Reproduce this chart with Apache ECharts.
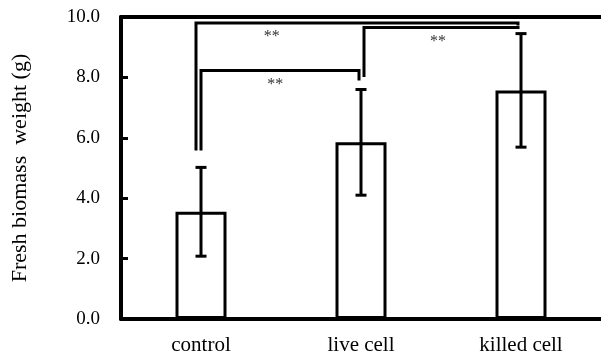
<!DOCTYPE html>
<html>
<head>
<meta charset="utf-8">
<script src="https://cdn.jsdelivr.net/npm/echarts@6/dist/echarts.min.js"></script>
<style>html,body{margin:0;padding:0;background:#fff}#c{width:601px;height:356px}</style>
</head>
<body>
<div id="c"></div>
<script>
// ---- data ----
const categories = ['control', 'live cell', 'killed cell'];
const means = [3.55, 5.85, 7.57];
const errors = [1.47, 1.75, 1.88];
const yTickMin = 0, yTickMax = 10, yTickStep = 2;
// brackets: [fromIndex, toIndex, topValue, leftEndValue, rightEndValue]
const brackets = [
  [0, 2, 9.80, 5.58, 9.72],
  [1, 2, 9.65, 8.01, 9.60],
  [0, 1, 8.23, 5.58, 7.90]
];
const bracketLabels = ['**', '**', '**'];
// label y values
const bracketLabelValues = [9.34, 9.18, 7.74];

// ---- style (pixel offsets, not data) ----
const bracketOffsets = [[-5, -3], [3, -3], [0, -2]];
const labelFractions = [0.235, 0.48, 0.47];
const serif = '"Liberation Serif", "Times New Roman", serif';

const errData = categories.map((c, i) => [i, means[i] - errors[i], means[i] + errors[i]]);
const brData = brackets.map((b, i) => b.concat([i]));

const chart = echarts.init(document.getElementById('c'), null, {renderer: 'canvas'});
chart.setOption({
  animation: false,
  backgroundColor: '#fff',
  grid: {left: 121, right: -2, top: 17, bottom: 35.5, containLabel: false},
  xAxis: [{
    type: 'category',
    data: categories,
    boundaryGap: true,
    axisLine: {lineStyle: {color: '#000', width: 4}},
    axisTick: {inside: true, length: 6, lineStyle: {color: '#000', width: 3}},
    axisLabel: {color: '#000', fontFamily: serif, fontSize: 21, margin: 16},
    splitLine: {show: false}
  }, {
    type: 'category',
    data: categories,
    position: 'top',
    axisLine: {lineStyle: {color: '#000', width: 4}},
    axisTick: {show: false},
    axisLabel: {show: false}
  }],
  yAxis: {
    type: 'value',
    min: yTickMin, max: yTickMax, interval: yTickStep,
    name: 'Fresh biomass  weight (g)',
    nameLocation: 'middle',
    nameGap: 90,
    nameTextStyle: {color: '#000', fontFamily: serif, fontSize: 22},
    axisLine: {show: true, lineStyle: {color: '#000', width: 4}},
    axisTick: {show: true, inside: true, length: 7, lineStyle: {color: '#000', width: 3}},
    axisLabel: {color: '#000', fontFamily: serif, fontSize: 19, margin: 21,
      formatter: v => v.toFixed(1)},
    splitLine: {show: false}
  },
  series: [{
    type: 'bar',
    data: means,
    barWidth: 51,
    itemStyle: {color: '#fff', borderColor: '#000', borderWidth: 3},
    z: 2
  }, {
    type: 'custom',
    data: errData,
    encode: {x: 0, y: [1, 2]},
    z: 3,
    renderItem: function (params, api) {
      const x = api.value(0);
      const lo = api.coord([x, api.value(1)]);
      const hi = api.coord([x, api.value(2)]);
      const cap = 5.5;
      const st = {stroke: '#000', lineWidth: 3};
      return {type: 'group', children: [
        {type: 'line', shape: {x1: lo[0], y1: lo[1], x2: hi[0], y2: hi[1]}, style: st},
        {type: 'line', shape: {x1: lo[0] - cap, y1: lo[1], x2: lo[0] + cap, y2: lo[1]}, style: st},
        {type: 'line', shape: {x1: hi[0] - cap, y1: hi[1], x2: hi[0] + cap, y2: hi[1]}, style: st}
      ]};
    }
  }, {
    type: 'custom',
    data: brData,
    encode: {x: [0, 1], y: [2, 3, 4]},
    z: 4,
    renderItem: function (params, api) {
      const idx = api.value(5);
      const off = bracketOffsets[idx];
      const f = api.value(0), t = api.value(1);
      const pTopL = api.coord([f, api.value(2)]);
      const pTopR = api.coord([t, api.value(2)]);
      const pL = api.coord([f, api.value(3)]);
      const pR = api.coord([t, api.value(4)]);
      const xl = pTopL[0] + off[0], xr = pTopR[0] + off[1];
      const yl = pL[1], yr = pR[1], yt = pTopL[1];
      const lp = api.coord([f, bracketLabelValues[idx]]);
      const lx = xl + labelFractions[idx] * (xr - xl);
      return {type: 'group', children: [
        {type: 'polyline', shape: {points: [[xl, yl], [xl, yt], [xr, yt], [xr, yr]]},
          style: {stroke: '#000', lineWidth: 3, fill: null}},
        {type: 'text', style: {text: bracketLabels[idx], x: lx, y: lp[1],
          align: 'center', verticalAlign: 'middle',
          font: '16px ' + serif, fill: '#333'}}
      ]};
    }
  }]
});
</script>
</body>
</html>
